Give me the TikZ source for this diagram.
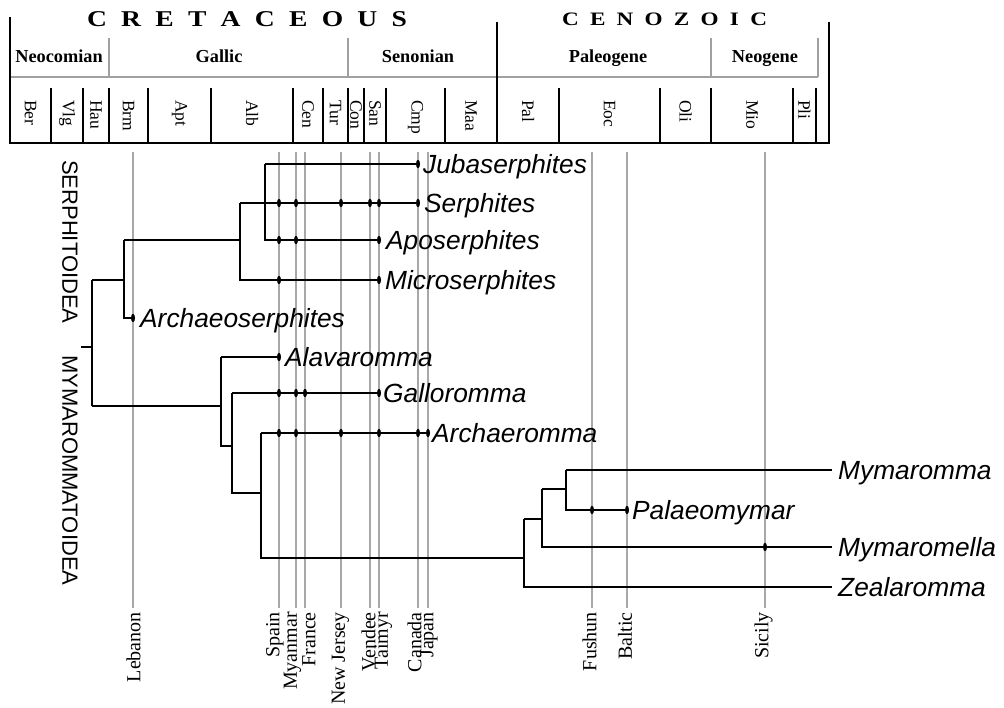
\documentclass[tikz,border=0pt]{standalone}
\usepackage{fontspec}
\usepackage{graphicx}
\setmainfont{Liberation Serif}
\setsansfont{Liberation Sans}
\definecolor{locgray}{RGB}{168,168,168}
\definecolor{hdrgray}{RGB}{160,160,160}
\newcommand\wideletter[1]{\scalebox{1.22}[1]{#1}}
\begin{document}
\begin{tikzpicture}[x=1pt,y=-1pt,
  hdrline/.style={line width=2.8pt},
  sepline/.style={line width=2.6pt},
  epochline/.style={draw=hdrgray,line width=2.2pt},
  locline/.style={draw=locgray,line width=1.8pt},
  branch/.style={line width=1.8pt},
  stagelbl/.style={font=\fontsize{17.5}{20}\selectfont,rotate=-90,anchor=west,inner sep=0pt},
  epochlbl/.style={font=\bfseries\fontsize{18.3}{20}\selectfont,anchor=base,inner sep=0pt},
  eralbl/.style={inner sep=0pt},
  loclbl/.style={font=\fontsize{20}{22}\selectfont,rotate=90,anchor=east,inner sep=0pt},
  taxon/.style={font=\sffamily\itshape\fontsize{26.3}{28}\selectfont,anchor=base west,inner sep=0pt,yshift=-9.3pt},
  clade/.style={font=\sffamily\fontsize{22}{24}\selectfont,rotate=-90,anchor=west,inner sep=0pt},
  fossil/.style={fill=black}
]
\useasboundingbox (0,0) rectangle (1004,708);

% ---------------- header ----------------
\node[eralbl,font=\bfseries\fontsize{22.6}{24}\selectfont] (cret) at (247,19.5)
  {\makebox[320pt][s]{\wideletter{C}\hfill \wideletter{R}\hfill \wideletter{E}\hfill \wideletter{T}\hfill \wideletter{A}\hfill \wideletter{C}\hfill \wideletter{E}\hfill \wideletter{O}\hfill \wideletter{U}\hfill \wideletter{S}}};
\node[eralbl,font=\bfseries\fontsize{19}{21}\selectfont] (ceno) at (664.5,19.7)
  {\makebox[205pt][s]{\wideletter{C}\hfill \wideletter{E}\hfill \wideletter{N}\hfill \wideletter{O}\hfill \wideletter{Z}\hfill \wideletter{O}\hfill \wideletter{I}\hfill \wideletter{C}}};

\draw[epochline] (10,77) -- (818,77);
\foreach \x in {109,348,711,818} \draw[epochline] (\x,38) -- (\x,77);

\node[epochlbl] (neoc) at (59,63) {Neocomian};
\node[epochlbl] (gall) at (219,63) {Gallic};
\node[epochlbl] (seno) at (418,63) {Senonian};
\node[epochlbl] (paleo) at (608,63) {Paleogene};
\node[epochlbl] (neog) at (765,63) {Neogene};

\foreach \x in {51,83,109,148,211,293,323,348,364,386,445,559,660,711,793,816}
  \draw[sepline] (\x,88) -- (\x,143);
\draw[hdrline] (10,17) -- (10,143);
\draw[hdrline] (497,22) -- (497,143);
\draw[hdrline] (829,22) -- (829,143);
\draw[hdrline] (8.6,143) -- (830.4,143);

\foreach \s/\x [count=\i] in {Ber/30.5,Vlg/67,Hau/96,Brm/128.5,Apt/179.5,Alb/252,Cen/308,Tur/335.5,Con/356,San/375,Cmp/415.5,Maa/471,Pal/528,Eoc/609.5,Oli/685.5,Mio/752,Pli/804.5}
  \node[stagelbl] (stage\i) at (\x,100) {\s};

% ---------------- localities ----------------
\foreach \n/\x/\lx [count=\i] in {Lebanon/133/133.5,Spain/279/275,Myanmar/296/292.5,France/305/309,New Jersey/341/340.5,Vendee/370/368.5,Taimyr/379/383.5,Canada/418/414.5,Japan/428/429,Fushun/592/589.5,Baltic/627/625,Sicily/765/763.5}{
  \coordinate (ltop\i) at (\x,152);
  \coordinate (lbot\i) at (\x,608);
  \draw[locline] (ltop\i) -- (lbot\i);
  \node[loclbl] (loc\i) at (\lx,612) {\n};
}

% ---------------- clade labels ----------------
\node[clade] (serph) at (70,160) {SERPHITOIDEA};
\node[clade] (mymar) at (70,355) {MYMAROMMATOIDEA};

% ---------------- tree ----------------
\coordinate (root) at (81,347);
\coordinate (n0) at (92,347);
\coordinate (nS) at (92,280);
\coordinate (nM) at (92,406);
\coordinate (s1) at (124,280);
\coordinate (s1a) at (124,240);
\coordinate (s1b) at (124,318);
\coordinate (s2) at (240,240);
\coordinate (s2a) at (240,203);
\coordinate (s2b) at (240,280);
\coordinate (s3) at (265,203);
\coordinate (s3a) at (265,164);
\coordinate (s3b) at (265,240);
\coordinate (m1) at (221,406);
\coordinate (m1a) at (221,357);
\coordinate (m1b) at (221,446);
\coordinate (m2) at (232,446);
\coordinate (m2a) at (232,393);
\coordinate (m2b) at (232,493);
\coordinate (m3) at (261,493);
\coordinate (m3a) at (261,433);
\coordinate (m3b) at (261,558);
\coordinate (m4) at (524,558);
\coordinate (m4a) at (524,519);
\coordinate (m4b) at (524,587);
\coordinate (m5) at (542,519);
\coordinate (m5a) at (542,489);
\coordinate (m5b) at (542,547);
\coordinate (m6) at (566,489);
\coordinate (m6a) at (566,470);
\coordinate (m6b) at (566,510);

\coordinate (tJub) at (418,164);
\coordinate (tSer) at (418,203);
\coordinate (tApo) at (379,240);
\coordinate (tMic) at (379,280);
\coordinate (tArs) at (133,318);
\coordinate (tAla) at (279,357);
\coordinate (tGal) at (379,393);
\coordinate (tArc) at (428,433);
\coordinate (tMym) at (832,470);
\coordinate (tPal) at (627,510);
\coordinate (tMyl) at (832,547);
\coordinate (tZea) at (832,587);

\begin{scope}[branch]
\draw (root) -- (n0);
\draw (nS) -- (nM);
\draw (nS) -- (s1);
\draw (s1a) -- (s1b) -- (tArs);
\draw (s1a) -- (s2);
\draw (s2a) -- (s2b) -- (tMic);
\draw (s2a) -- (tSer);
\draw (s3a) -- (s3b) -- (tApo);
\draw (s3a) -- (tJub);
\draw (nM) -- (m1);
\draw (m1a) -- (m1b) -- (m2);
\draw (m1a) -- (tAla);
\draw (m2a) -- (m2b) -- (m3);
\draw (m2a) -- (tGal);
\draw (m3a) -- (m3b) -- (m4);
\draw (m3a) -- (tArc);
\draw (m4a) -- (m4b) -- (tZea);
\draw (m4a) -- (m5);
\draw (m5a) -- (m5b) -- (tMyl);
\draw (m5a) -- (m6);
\draw (m6a) -- (m6b) -- (tPal);
\draw (m6a) -- (tMym);
\end{scope}

% fossil occurrences
\foreach \x/\y in {418/164,
  279/203,296/203,341/203,370/203,379/203,418/203,
  279/240,296/240,379/240,
  279/280,379/280,
  133/318,
  279/357,
  279/393,296/393,305/393,379/393,
  279/433,296/433,341/433,379/433,418/433,428/433,
  592/510,627/510,
  765/547}
  \fill[fossil] (\x,\y) ellipse [x radius=2pt, y radius=4.2pt];

% taxa
\node[taxon] (Jub) at (423,164) {Jubaserphites};
\node[taxon] (Ser) at (424,203) {Serphites};
\node[taxon] (Apo) at (386,240) {Aposerphites};
\node[taxon] (Mic) at (385,280) {Microserphites};
\node[taxon] (Ars) at (140,318) {Archaeoserphites};
\node[taxon] (Ala) at (285,357) {Alavaromma};
\node[taxon] (Gal) at (383,393) {Galloromma};
\node[taxon] (Arc) at (432,433) {Archaeromma};
\node[taxon] (Mym) at (838,470) {Mymaromma};
\node[taxon] (Pal) at (632,510) {Palaeomymar};
\node[taxon] (Myl) at (838,547) {Mymaromella};
\node[taxon] (Zea) at (838,587) {Zealaromma};
\end{tikzpicture}
\end{document}
